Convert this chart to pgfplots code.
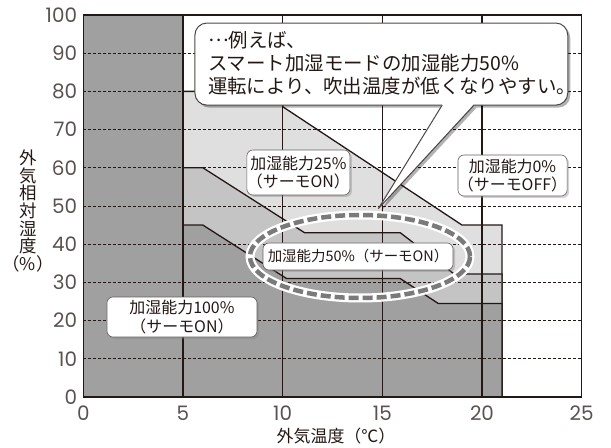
\documentclass[border=0pt]{standalone}
\usepackage{fontspec}
\setmainfont{Noto Sans CJK JP}
\newfontfamily\tickfont{Poppins}
\usepackage{pgfplots}
\pgfplotsset{compat=1.18}
\usetikzlibrary{calc,shadows}
\definecolor{ink}{HTML}{231815}
\definecolor{g100}{HTML}{A0A0A0}
\definecolor{g50}{HTML}{C4C4C4}
\definecolor{g25}{HTML}{DFDFDF}
\definecolor{dashgray}{HTML}{7A7A7A}
\begin{document}
\begin{tikzpicture}
\path (0,0) rectangle (611bp,448bp);
\begin{axis}[
  at={(83.3bp,51bp)}, anchor=south west,
  scale only axis, width=498.4bp, height=382bp,
  xmin=0, xmax=25, ymin=0, ymax=100,
  xtick={0,5,...,25}, ytick={0,10,...,100},
  major tick length=0,
  axis on top,
  axis line style={ink, line width=1.2bp},
  xmajorgrids, ymajorgrids,
  x grid style={ink, line width=1.2bp, solid},
  y grid style={ink, line width=0.7bp, dash pattern=on 3bp off 2bp},
  tick label style={font=\tickfont\fontsize{20}{20}\selectfont, text=ink!75, inner sep=0pt},
  xticklabel style={yshift=-9bp},
  yticklabel style={xshift=-6bp},
  /pgf/number format/assume math mode=true,
  xlabel={外気温度（℃）},
  xlabel style={font=\fontsize{17}{17}\selectfont, text=ink, inner sep=0pt,
    at={(axis description cs:0.507,0)}, anchor=north, yshift=-31bp},
  ylabel={外\\気\\相\\対\\湿\\度\\（\%）},
  ylabel style={rotate=-90, align=center, font=\fontsize{17.5}{17.7}\selectfont, text=ink,
    inner sep=0pt, at={(axis description cs:-0.111,0.487)}, anchor=center},
]
% 加湿能力25%
\addplot[fill=g25, draw=ink, line width=1.3bp] coordinates {
  (5,0) (5,80) (10,80) (10,76) (19,45) (21,45) (21,0)} -- cycle;
% 加湿能力50%
\addplot[fill=g50, draw=ink, line width=1.3bp] coordinates {
  (5,0) (5,60) (6,60) (11.1,43) (15.9,43) (18.6,32.2) (21,32.2) (21,0)} -- cycle;
% 加湿能力100%
\addplot[fill=g100, draw=ink, line width=1.3bp] coordinates {
  (0,0) (0,100) (5,100) (5,45) (6,45) (10.2,31) (15.9,31) (17.8,24.5) (21,24.5) (21,0)} -- cycle;

\coordinate (cbl) at (axis cs:5.6,76.4);
\coordinate (ctr) at (axis cs:24.3,97.9);
\coordinate (pl) at (axis cs:18.0,76.4);
\coordinate (pr) at (axis cs:19.6,76.4);
\coordinate (tip) at (axis cs:14.8,49.3);
\coordinate (ctext) at (axis cs:6.25,95.8);
\coordinate (l25) at (axis cs:10.79,58.77);
\coordinate (l0) at (axis cs:21.53,57.98);
\coordinate (l100) at (axis cs:4.95,20.94);
\coordinate (l50) at (axis cs:13.78,36.78);
\coordinate (ec) at (axis cs:13.88,36.78);
\end{axis}

\tikzset{lbl/.style={draw=ink!70, line width=0.6bp, fill=white, rounded corners=6bp,
  align=center, inner sep=0pt, font=\fontsize{16}{18.5}\selectfont, text=ink,
  drop shadow={shadow xshift=2bp, shadow yshift=-2bp, opacity=0.35}}}

% callout
\fill[black, opacity=0.3, rounded corners=12bp] ($(cbl)+(2.5bp,-2.5bp)$) rectangle ($(ctr)+(2.5bp,-2.5bp)$);
\fill[black, opacity=0.3] ($(pl)+(2.5bp,-2.5bp)$) -- ($(tip)+(2.5bp,-2.5bp)$) -- ($(pr)+(2.5bp,-2.5bp)$) -- cycle;
\draw[ink!80, line width=1bp, fill=white, rounded corners=12bp] (cbl) rectangle (ctr);
\fill[white] ($(pl)+(0.3bp,1bp)$) -- (tip) -- ($(pr)+(-0.3bp,1bp)$) -- cycle;
\draw[ink!80, line width=1bp] (pl) -- (tip) -- (pr);
\node[anchor=north west, align=left, inner sep=0pt, font=\fontsize{19.5}{23}\selectfont, text=ink]
  at (ctext) {\raisebox{0.3em}{…}例えば、\\スマート加湿モードの加湿能力50\%\\運転により、吹出温度が低くなりやすい。};

% ellipse
\draw[white, line width=9bp] (ec) ellipse [x radius=110bp, y radius=41.5bp];
\draw[dashgray, line width=4.5bp, dash pattern=on 10bp off 4bp] (ec) ellipse [x radius=110bp, y radius=41.5bp];

% labels
\node[lbl, minimum width=103bp, minimum height=45bp] at (l25) {加湿能力25\%\\（サーモON）};
\node[lbl, minimum width=109bp, minimum height=41bp] at (l0) {加湿能力0\%\\（サーモOFF）};
\node[lbl, minimum width=150bp, minimum height=40bp] at (l100) {加湿能力100\%\\（サーモON）};
\node[lbl, minimum width=190bp, minimum height=27bp, font=\fontsize{14.5}{16}\selectfont] at (l50) {加湿能力50\%（サーモON）};
\end{tikzpicture}
\end{document}
